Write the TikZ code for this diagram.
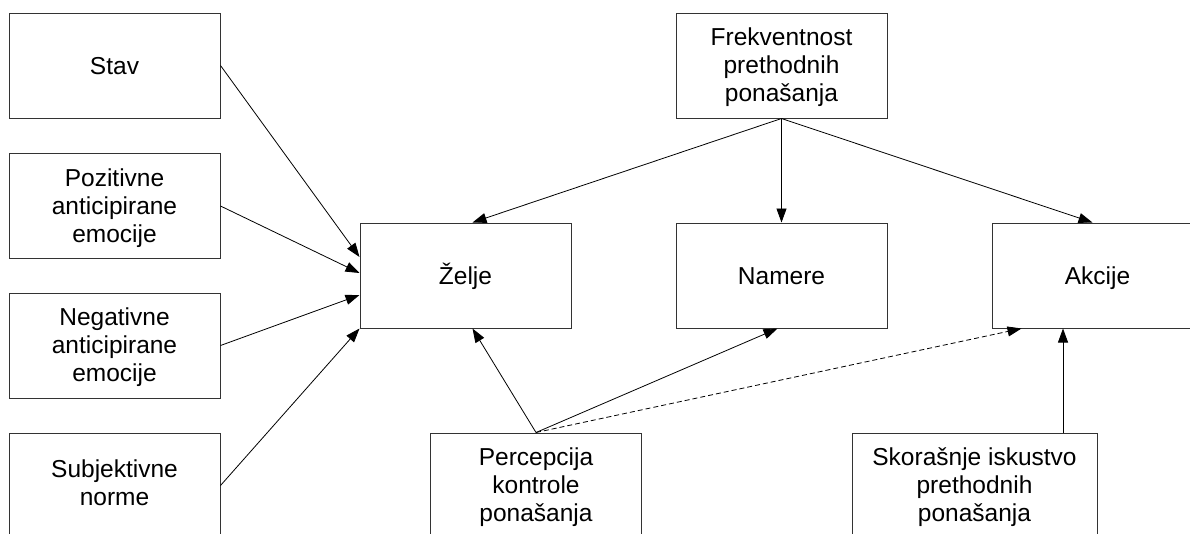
\documentclass[tikz,border=0pt]{standalone}
\usepackage{fontspec}
\setmainfont{Liberation Sans}
\usetikzlibrary{arrows.meta}
\begin{document}
\begin{tikzpicture}[x=1pt,y=-1pt,
  box/.style={draw=black!80, line width=1pt, minimum width=211pt, minimum height=105pt,
    inner sep=0pt, align=center, font=\fontsize{24.5}{28}\selectfont},
  % fixed text boxes so that every label sits on the same optical centre
  oneline/.style={text height=17pt, text depth=0pt},
  twolines/.style={text height=39pt, text depth=0pt},
  threelines/.style={text height=72pt, text depth=0pt},
  widebox/.style={box, minimum width=245pt},
  link/.style={draw=black, line width=0.8pt, -{Triangle[length=14pt,width=10pt]}},
  weaklink/.style={link, dash pattern=on 5pt off 3pt}]
\clip (0,0) rectangle (1190,533);
\fill[white] (0,0) rectangle (1190,533);

% predictors of desire
\node[box,oneline]    (stav) at (114.5,65.5) {Stav};
\node[box,threelines] (poz)  at (114.5,206) {Pozitivne\\anticipirane\\emocije};
\node[box,threelines] (neg)  at (114.5,345.5) {Negativne\\anticipirane\\emocije};
\node[box,twolines]   (subj) at (114.5,485.5) {Subjektivne\\norme};

% main chain
\node[box,oneline] (zelje)  at (465.5,275.5) {Želje};
\node[box,oneline] (namere) at (781.5,275.5) {Namere};
\node[box,oneline] (akcije) at (1097.5,275.5) {Akcije};

% past behaviour and control
\node[box,threelines] (frek) at (781.5,65.5) {Frekventnost\\prethodnih\\ponašanja};
\node[box,threelines] (perc) at (536,485.5) {Percepcija\\kontrole\\ponašanja};
\node[widebox,threelines] (skor) at (974.5,485.5) {Skorašnje iskustvo\\prethodnih\\ponašanja};

% arrows into desire
\draw[link] (stav.east) -- ([yshift=18.5pt]zelje.west);
\draw[link] (poz.east)  -- ([yshift=2.5pt]zelje.west);
\draw[link] (neg.east)  -- ([yshift=-19.5pt]zelje.west);
\draw[link] (subj.east) -- (zelje.south west);

% frequency of past behaviour
\draw[link] (frek.south) -- ([xshift=7pt]zelje.north);
\draw[link] (frek.south) -- (namere.north);
\draw[link] (frek.south) -- ([xshift=-5pt]akcije.north);

% perceived behavioural control
\draw[link] (perc.north) -- ([xshift=7pt]zelje.south);
\draw[link] (perc.north) -- ([xshift=-4pt]namere.south);
\draw[weaklink] (perc.north) -- ([xshift=30pt]akcije.south west);

% recent experience
\draw[link] ([xshift=88.5pt]skor.north) -- ([xshift=88.5pt]skor.north |- akcije.south);
\end{tikzpicture}
\end{document}
